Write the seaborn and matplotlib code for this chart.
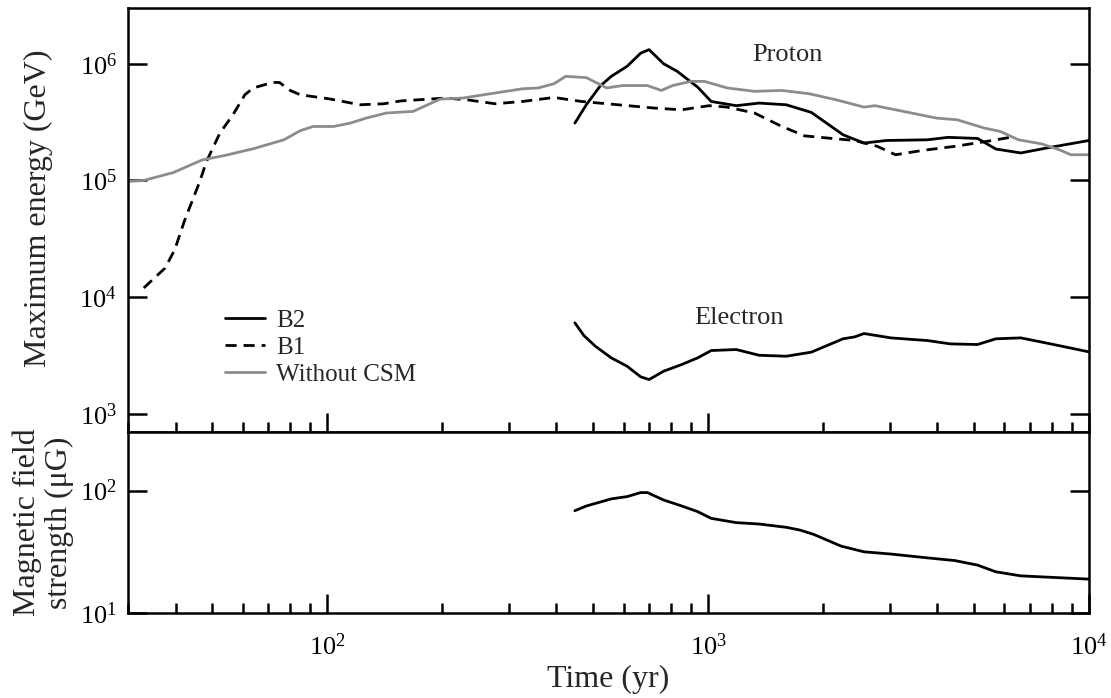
import numpy as np
import pandas as pd
import seaborn as sns
import matplotlib
matplotlib.use("Agg")
import matplotlib.pyplot as plt
from matplotlib.ticker import LogLocator, NullLocator, NullFormatter

# ---- data -------------------------------------------------------------
# Proton maximum energy without circumstellar medium (GeV)
t_nocsm = [30, 33, 39.5, 47, 54, 64, 77, 85, 92, 104, 115, 127, 143, 156, 168,
           198, 227, 268, 326, 358, 394, 423, 479, 542, 596, 693, 754, 807, 901,
           978, 1122, 1324, 1562, 1842, 2174, 2566, 2743, 3105, 3981, 4508, 5312,
           5849, 6532, 7497, 8364, 8960, 10000]
E_nocsm = [0.98e5, 1.0e5, 1.17e5, 1.5e5, 1.64e5, 1.87e5, 2.23e5, 2.67e5, 2.9e5,
           2.9e5, 3.1e5, 3.43e5, 3.78e5, 3.85e5, 3.9e5, 4.98e5, 5.08e5, 5.53e5,
           6.1e5, 6.2e5, 6.74e5, 7.8e5, 7.6e5, 6.2e5, 6.5e5, 6.5e5, 5.9e5, 6.5e5,
           7.06e5, 7.06e5, 6.2e5, 5.8e5, 5.9e5, 5.53e5, 4.9e5, 4.25e5, 4.37e5,
           4.03e5, 3.42e5, 3.31e5, 2.81e5, 2.63e5, 2.23e5, 2.06e5, 1.83e5,
           1.66e5, 1.66e5]

# Proton maximum energy, model B1 (GeV)
t_b1 = [33, 37.5, 39.8, 42.3, 46.3, 48.2, 52.3, 56.6, 60.8, 64, 72, 75, 80, 85,
        102, 122, 141, 156, 204, 234, 276, 326, 394, 465, 580, 722, 853, 1005,
        1122, 1324, 1562, 1792, 2055, 2425, 2781, 3105, 3663, 4446, 5383, 6400]
E_b1 = [1.2e4, 1.77e4, 2.55e4, 4.6e4, 9.8e4, 1.45e5, 2.55e5, 3.66e5, 5.42e5,
        6.2e5, 6.92e5, 6.9e5, 5.9e5, 5.42e5, 4.98e5, 4.45e5, 4.54e5, 4.8e5,
        5.08e5, 4.9e5, 4.54e5, 4.75e5, 5.14e5, 4.75e5, 4.45e5, 4.17e5, 4.03e5,
        4.37e5, 4.25e5, 3.78e5, 2.9e5, 2.41e5, 2.31e5, 2.2e5, 1.96e5, 1.66e5,
        1.81e5, 1.96e5, 2.16e5, 2.38e5]

# Proton maximum energy, model B2 (GeV)
t_b2p = [447, 479, 520, 557, 613, 665, 700, 764, 830, 939, 1019, 1186, 1361,
         1604, 1866, 2262, 2566, 2940, 3767, 4266, 5098, 5693, 6621, 7696, 10000]
E_b2p = [3.1e5, 4.45e5, 6.4e5, 7.8e5, 9.5e5, 1.23e6, 1.32e6, 1.0e6, 8.6e5,
         6.3e5, 4.75e5, 4.37e5, 4.6e5, 4.45e5, 3.83e5, 2.46e5, 2.09e5, 2.2e5,
         2.23e5, 2.34e5, 2.29e5, 1.86e5, 1.72e5, 1.89e5, 2.2e5]

# Electron maximum energy, model B2 (GeV)
t_b2e = [447, 472, 506, 557, 613, 665, 700, 764, 853, 939, 1019, 1186, 1361,
         1604, 1866, 2262, 2426, 2566, 3020, 3767, 4325, 5098, 5693, 6621, 7696,
         10000]
E_b2e = [6.03e3, 4.69e3, 3.8e3, 3.02e3, 2.56e3, 2.08e3, 1.97e3, 2.32e3, 2.65e3,
         3.02e3, 3.49e3, 3.56e3, 3.18e3, 3.12e3, 3.38e3, 4.4e3, 4.57e3, 4.88e3,
         4.48e3, 4.25e3, 3.98e3, 3.93e3, 4.4e3, 4.48e3, 4.06e3, 3.4e3]

# Magnetic field strength at the shock, model B2 (microgauss)
t_field = [447, 479, 557, 613, 665, 693, 764, 853, 939, 1019, 1186, 1361, 1604,
           1741, 1892, 2233, 2566, 3020, 3767, 4446, 5098, 5693, 6621, 8127,
           10000]
B_field = [68.5, 74.8, 85.5, 89.3, 96.3, 96.3, 83.8, 74.8, 67.3, 59.3, 54.7,
           53.3, 50.1, 47.6, 43.9, 35.2, 31.6, 30.3, 28.2, 26.8, 24.6, 21.7, 20.1,
           19.5, 18.9]

# ---- style -------------------------------------------------------------
sns.set_theme(style="ticks")
plt.rcParams.update({
    "font.family": ["Liberation Serif", "DejaVu Serif"],
    "mathtext.fontset": "stix",
    "axes.linewidth": 1.8,
    "axes.edgecolor": "black",
    "xtick.color": "black",
    "ytick.color": "black",
})

BLACK = "black"
GREY = "#8c8c8c"
LW = 2.0
LABEL_SIZE = 23

fig = plt.figure(figsize=(11.11, 6.98), dpi=100)
left, right = 0.1152, 0.9802
ax_top = fig.add_axes([left, 0.3811, right - left, 0.6074])
ax_bot = fig.add_axes([left, 0.1218, right - left, 0.2593], sharex=ax_top)

# ---- upper panel: maximum energies ---------------------------------------
sns.lineplot(x=t_b2p, y=E_b2p, ax=ax_top, color=BLACK, lw=LW,
             estimator=None, label="B2")
sns.lineplot(x=t_b1, y=E_b1, ax=ax_top, color=BLACK, lw=LW,
             estimator=None, label="B1", dashes=False)
ax_top.lines[-1].set_dashes((4, 2.5))
sns.lineplot(x=t_nocsm, y=E_nocsm, ax=ax_top, color=GREY, lw=LW,
             estimator=None, label="Without CSM")
sns.lineplot(x=t_b2e, y=E_b2e, ax=ax_top, color=BLACK, lw=LW,
             estimator=None)

ax_top.set_xscale("log")
ax_top.set_yscale("log")
ax_top.set_xlim(30, 1e4)
ax_top.set_ylim(700, 3.0e6)
ax_top.set_yticks([1e3, 1e4, 1e5, 1e6])
ax_top.yaxis.set_minor_locator(NullLocator())
ax_top.set_ylabel("Maximum energy (GeV)", fontsize=LABEL_SIZE)
ax_top.yaxis.set_label_coords(-0.078, 0.528)

ax_top.text(1615, 1.19e6, "Proton", fontsize=19, ha="center", va="center")
ax_top.text(1206, 6.65e3, "Electron", fontsize=19, ha="center", va="center")

leg = ax_top.legend(loc="upper left", bbox_to_anchor=(0.101, 0.290),
                    frameon=False, fontsize=18, handlelength=1.6,
                    handletextpad=0.44, labelspacing=0.18, borderpad=0,
                    borderaxespad=0)

# ---- lower panel: magnetic field -----------------------------------------
sns.lineplot(x=t_field, y=B_field, ax=ax_bot, color=BLACK, lw=LW,
             estimator=None)
ax_bot.set_yscale("log")
ax_bot.set_ylim(10, 301)
ax_bot.set_yticks([10, 100])
ax_bot.yaxis.set_minor_locator(NullLocator())
ax_bot.set_ylabel("Magnetic field\nstrength (\u03bcG)", fontsize=LABEL_SIZE,
                  linespacing=1.15)
ax_bot.yaxis.set_label_coords(-0.056, 0.5)
ax_bot.set_xlabel("Time (yr)", fontsize=LABEL_SIZE, labelpad=4)

# ---- ticks -------------------------------------------------------------
for ax in (ax_top, ax_bot):
    ax.xaxis.set_major_locator(LogLocator(base=10, numticks=10))
    ax.xaxis.set_minor_locator(LogLocator(base=10, subs=np.arange(2, 10),
                                          numticks=10))
    ax.xaxis.set_minor_formatter(NullFormatter())
    ax.tick_params(axis="both", which="major", direction="in", length=13.5,
                   width=1.8, labelsize=19)
    ax.tick_params(axis="x", which="minor", direction="in", length=7,
                   width=1.8)
    ax.tick_params(axis="y", which="both", left=True, right=True, pad=8)
    ax.tick_params(axis="x", which="both", top=False, bottom=True, pad=14.5)
    for s in ax.spines.values():
        s.set_visible(True)
        s.set_linewidth(1.8)

ax_top.tick_params(axis="x", which="both", labelbottom=False)

fig.savefig("out.png", dpi=100)
